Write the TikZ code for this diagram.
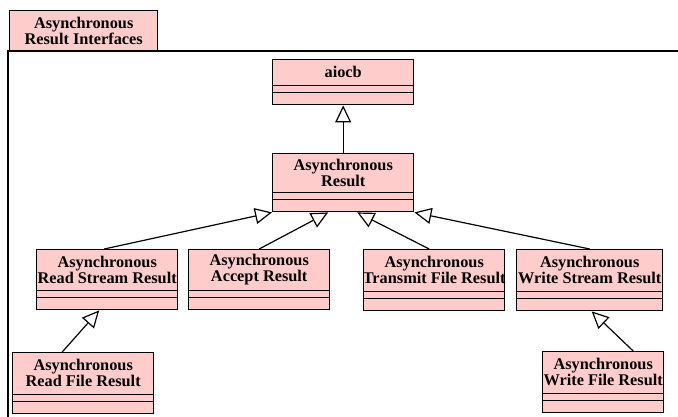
\documentclass[tikz,border=0pt]{standalone}
\usepackage{fontspec}
\setmainfont{Liberation Serif}
\usetikzlibrary{arrows.meta,calc}
\definecolor{classpink}{RGB}{255,204,204}
\tikzset{
  classbox/.style={draw=black, fill=classpink, line width=1.4pt, inner sep=0pt, anchor=north west},
  classtitle/.style={font=\fontsize{16.3}{15.6}\selectfont\bfseries, align=center, inner sep=0pt},
  compline/.style={line width=1.4pt},
  pkgline/.style={line width=1.8pt},
  inherit/.style={line width=1.2pt, -{Triangle[open, length=17pt, width=16pt, fill=white]}},
}
% UML class: name, left, top, width, height, title
\newcommand\umlclass[6]{%
  \node[classbox, minimum width=#4pt, minimum height=#5pt] (#1) at (#2,#3) {};
  \path (#1.north west) -- coordinate (#1-tc) ($(#1.south east)+(0pt,20pt)$);
  \node[classtitle] (#1-title) at (#1-tc) {#6};
  \draw[compline] ($(#1.south west)+(0pt,20pt)$) -- ($(#1.south east)+(0pt,20pt)$);
  \draw[compline] ($(#1.south west)+(0pt,13pt)$) -- ($(#1.south east)+(0pt,13pt)$);
}
\begin{document}
\begin{tikzpicture}[x=1pt, y=-1pt]
  \useasboundingbox (0,0) rectangle (678,417);
  \clip (0,0) rectangle (678,417);

  % package frame
  \draw[pkgline] (8,425) -- (8,51) -- (690,51);
  \node[classbox, classtitle, minimum width=148pt, minimum height=40pt] (pkg) at (9,10)
    {Asynchronous\\Result Interfaces};

  % classes
  \umlclass{aiocb}{272}{59}{141}{45}{aiocb}
  \umlclass{res}{272}{153}{141}{58}{Asynchronous\\Result}
  \umlclass{rs}{36}{249}{141}{60}{Asynchronous\\Read Stream Result}
  \umlclass{acc}{188}{249}{141}{60}{Asynchronous\\Accept Result}
  \umlclass{tf}{363}{249}{141}{61}{Asynchronous\\Transmit File Result}
  \umlclass{ws}{516}{249}{146}{61}{Asynchronous\\Write Stream Result}
  \umlclass{rf}{12}{352}{141}{61}{Asynchronous\\Read File Result}
  \umlclass{wf}{542}{351}{121}{61}{Asynchronous\\Write File Result}

  % generalisations
  \draw[inherit] (res.north) -- (aiocb.south);
  \draw[inherit] ($(rs.north)+(-3pt,0pt)$) -- (res.south west);
  \draw[inherit] (acc.north) -- ($(res.south)+(-15pt,0pt)$);
  \draw[inherit] ($(tf.north)+(-5pt,0pt)$) -- ($(res.south)+(14pt,0pt)$);
  \draw[inherit] (ws.north) -- (res.south east);
  \draw[inherit] ($(rf.north)+(-21pt,0pt)$) -- ($(rs.south)+(-8pt,0pt)$);
  \draw[inherit] ($(wf.north)+(30pt,0pt)$) -- ($(ws.south)+(2pt,0pt)$);
\end{tikzpicture}
\end{document}
